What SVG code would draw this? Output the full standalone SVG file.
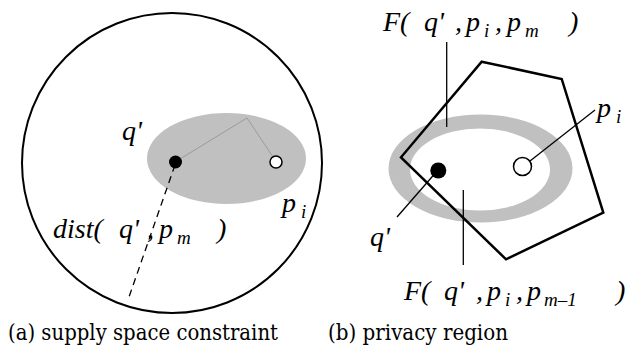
<svg xmlns="http://www.w3.org/2000/svg" width="626" height="358" viewBox="0 0 626 358">
<style>
.lbl{font-family:"Liberation Serif","Times New Roman",serif;font-style:italic;font-size:28px;fill:#000}
.sub{font-size:19px}
.cap{font-family:"DejaVu Serif","Liberation Serif",serif;font-size:22px;fill:#000}
.thick{fill:none;stroke:#000;stroke-width:2.5}
.thin{fill:none;stroke:#000;stroke-width:1.3}
.hollow{fill:#fff;stroke:#000;stroke-width:1.5}
</style>
<rect width="626" height="358" fill="#fff"/>
<g id="panel-a">
  <g id="outer-circle"><circle cx="172" cy="163" r="150" fill="none" stroke="#000" stroke-width="2"/></g>
  <g id="gray-ellipse"><ellipse cx="226.5" cy="158.5" rx="79.5" ry="45.5" fill="#c0c0c0"/></g>
  <g id="connectors-a">
    <polyline points="175,162 247,118 273,157" fill="none" stroke="#8a8a8a" stroke-width="0.7"/>
    <line x1="175" y1="165" x2="129" y2="297" stroke="#000" stroke-width="1.3" stroke-dasharray="7,5"/>
  </g>
  <g id="q-a"><circle cx="175.5" cy="162" r="6.5" fill="#000"/></g>
  <g id="pi-a"><circle class="hollow" cx="276" cy="162" r="6"/></g>
  <text class="lbl" x="122" y="140">q'</text>
  <text class="lbl" x="282" y="212">p<tspan class="sub" x="301" dy="6">i</tspan></text>
  <text class="lbl" x="53" y="238">dist(<tspan x="119">q'</tspan><tspan x="147">,</tspan><tspan x="159">p</tspan><tspan class="sub" x="177" dy="6">m</tspan><tspan x="217" dy="-6">)</tspan></text>
  <text class="cap" x="8" y="340" textLength="270" lengthAdjust="spacingAndGlyphs">(a) supply space constraint</text>
</g>
<g id="panel-b">
  <g id="ring">
    <ellipse cx="480.5" cy="168.5" rx="92" ry="54" fill="#c0c0c0"/>
    <ellipse cx="480" cy="169.5" rx="70" ry="41" fill="#fff"/>
  </g>
  <g id="pentagon"><polygon class="thick" points="481.7,61.7 561.7,79 603.3,212.7 506,259.3 401,157.3"/></g>
  <g id="connectors-b">
    <line class="thin" x1="446.7" y1="42" x2="446.7" y2="127"/>
    <line class="thin" x1="463.3" y1="190" x2="463.3" y2="265"/>
    <line class="thin" x1="530" y1="161" x2="595" y2="110"/>
    <line class="thin" x1="438" y1="170" x2="397" y2="217"/>
  </g>
  <g id="q-b"><circle cx="438.3" cy="170.5" r="8" fill="#000"/></g>
  <g id="pi-b"><circle class="hollow" cx="522.5" cy="166.5" r="9"/></g>
  <text class="lbl" x="383" y="31">F(<tspan x="424">q'</tspan><tspan x="455">,</tspan><tspan x="466">p</tspan><tspan class="sub" x="484" dy="6">i</tspan><tspan x="495" dy="-6">,</tspan><tspan x="507">p</tspan><tspan class="sub" x="525" dy="6">m</tspan><tspan x="569" dy="-6">)</tspan></text>
  <text class="lbl" x="597" y="117">p<tspan class="sub" x="616" dy="6">i</tspan></text>
  <text class="lbl" x="370" y="246">q'</text>
  <text class="lbl" x="404" y="300">F(<tspan x="444">q'</tspan><tspan x="476">,</tspan><tspan x="487">p</tspan><tspan class="sub" x="505" dy="6">i</tspan><tspan x="516" dy="-6">,</tspan><tspan x="527">p</tspan><tspan class="sub" x="544" dy="6">m–1</tspan><tspan x="616" dy="-6">)</tspan></text>
  <text class="cap" x="328" y="340" textLength="180" lengthAdjust="spacingAndGlyphs">(b) privacy region</text>
</g>
</svg>
